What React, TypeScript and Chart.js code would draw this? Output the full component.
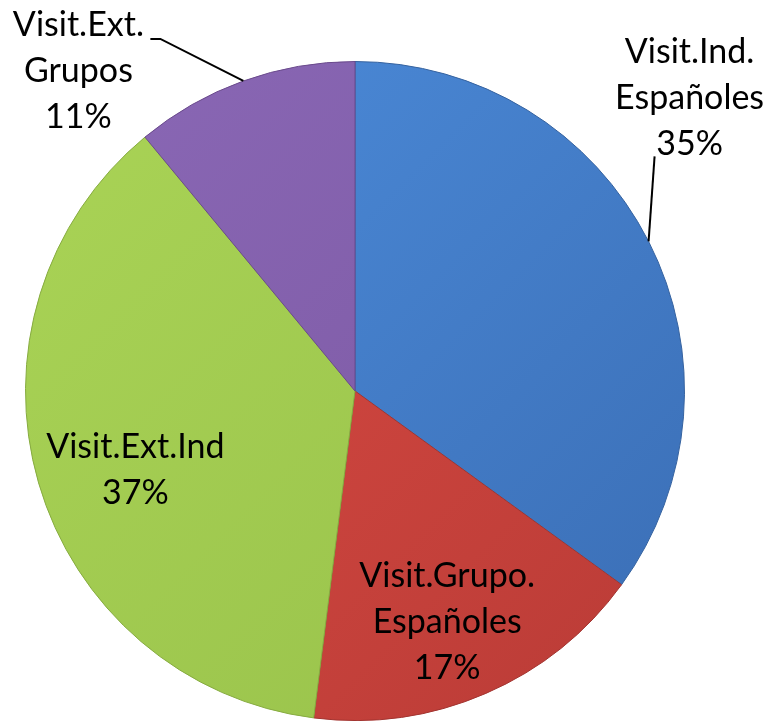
import React, { useEffect, useRef } from "react";
import { Chart, registerables } from "chart.js";

Chart.register(...registerables);

const categories = ["Visit.Ind. Españoles", "Visit.Grupo. Españoles", "Visit.Ext.Ind", "Visit.Ext. Grupos"];
const values = [35, 17, 37, 11];
const labelLines = [["Visit.Ind.", "Españoles", "35%"], ["Visit.Grupo.", "Españoles", "17%"], ["Visit.Ext.Ind", "37%"], ["Visit.Ext.", "Grupos", "11%"]];

const topColors = ["#4d8ddc", "#dc4c44", "#aad456", "#8a68b6"];
const bottomColors = ["#3a6db4", "#b93b36", "#97c04a", "#7a569f"];
const edgeColors = ["#35629f", "#a23430", "#86ab40", "#6a4a8c"];

const FONT = "34px Lato, 'Open Sans', 'DejaVu Sans', sans-serif";
const LINE_H = 46;

// label layout: inside -> radius fraction + nudge; outside -> leader + text offset from edge point
const layout = [
  { mode: "outside", leader: [[6, -85]], text: [41, -143] },
  { mode: "inside", frac: 0.75, nudge: [-6, 4] },
  { mode: "inside", frac: 0.71, nudge: [5, 14] },
  { mode: "outside", leader: [[-83, -42], [-93, -42]], text: [-165, -10] },
];

const labelPlugin = {
  id: "pieLabels",
  afterDatasetsDraw(chart: any) {
    const ctx = chart.ctx;
    const meta = chart.getDatasetMeta(0);
    ctx.save();
    ctx.font = FONT;
    ctx.fillStyle = "#000";
    ctx.textAlign = "center";
    ctx.textBaseline = "middle";
    meta.data.forEach((arc: any, i: number) => {
      const { x, y, startAngle, endAngle, outerRadius } = arc.getProps(["x", "y", "startAngle", "endAngle", "outerRadius"], true);
      const mid = (startAngle + endAngle) / 2;
      const L: any = layout[i];
      const lines = labelLines[i];
      let cx: number, cy: number;
      if (L.mode === "inside") {
        cx = x + Math.cos(mid) * outerRadius * L.frac + L.nudge[0];
        cy = y + Math.sin(mid) * outerRadius * L.frac + L.nudge[1];
      } else {
        const ex = x + Math.cos(mid) * outerRadius;
        const ey = y + Math.sin(mid) * outerRadius;
        ctx.beginPath();
        ctx.strokeStyle = "#000";
        ctx.lineWidth = 2;
        ctx.moveTo(ex, ey);
        L.leader.forEach((p: number[]) => ctx.lineTo(ex + p[0], ey + p[1]));
        ctx.stroke();
        cx = ex + L.text[0];
        cy = ey + L.text[1];
      }
      const n = lines.length;
      lines.forEach((t: string, k: number) => {
        ctx.fillText(t, cx, cy + (k - (n - 1) / 2) * LINE_H);
      });
    });
    ctx.restore();
  },
};

export default function App() {
  const ref = useRef<HTMLCanvasElement>(null);
  useEffect(() => {
    if (!ref.current) return;
    const chart = new Chart(ref.current, {
      type: "pie",
      data: {
        labels: categories,
        datasets: [
          {
            data: values,
            backgroundColor: (c: any) => {
              const area = c.chart.chartArea;
              const i = c.dataIndex;
              if (!area) return topColors[i];
              const g = c.chart.ctx.createLinearGradient(area.left, area.top, area.right, area.bottom);
              g.addColorStop(0, topColors[i]);
              g.addColorStop(1, bottomColors[i]);
              return g;
            },
            borderColor: edgeColors,
            borderWidth: 1,
          },
        ],
      },
      options: {
        responsive: false,
        animation: false,
        layout: { padding: { left: 24, right: 83, top: 61, bottom: 0 } },
        plugins: { legend: { display: false }, tooltip: { enabled: false } },
      },
      plugins: [labelPlugin],
    });
    return () => chart.destroy();
  }, []);
  return (
    <div style={{ position: "fixed", left: 0, top: 0, width: 769, height: 721, background: "#fff" }}>
      <canvas ref={ref} width={769} height={721} style={{ width: 769, height: 721, display: "block" }} />
    </div>
  );
}
